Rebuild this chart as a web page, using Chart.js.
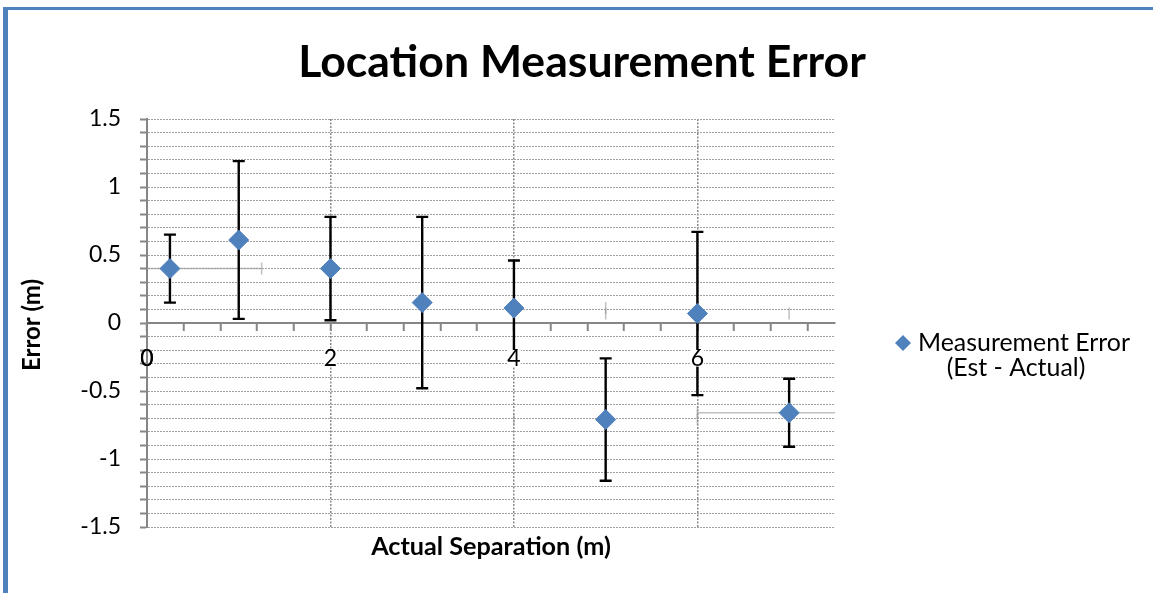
<!DOCTYPE html>
<html>
<head>
<meta charset="utf-8">
<title>Location Measurement Error</title>
<script src="https://cdn.jsdelivr.net/npm/chart.js@4.4.0/dist/chart.umd.min.js"></script>
<style>
  html, body { margin: 0; padding: 0; background: #fff; }
  #wrap { position: relative; width: 1153px; height: 593px; }
</style>
</head>
<body>
<div id="wrap"><canvas id="errorChart" width="1153" height="593"></canvas></div>
<script>
// actual separation of each trial (m)
const separations = [0.25, 1, 2, 3, 4, 5, 6, 7];
// estimated minus actual separation (m)
const errors = [0.40, 0.61, 0.40, 0.15, 0.11, -0.71, 0.07, -0.66];
// +/- spread of the error (m)
const errorSpread = [0.25, 0.58, 0.38, 0.63, 0.35, 0.45, 0.60, 0.25];
// +/- spread along the separation axis (m), only a couple draw the full line
const separationSpread = [1, 1, 1, 1, 1, 1, 1, 1];
const separationLineShown = [true, false, false, false, false, false, false, true];

const xTickLabels = [0, 2, 4, 6];
const yTickLabels = [-1.5, -1, -0.5, 0, 0.5, 1, 1.5];
const seriesName = ['Measurement Error', '(Est - Actual)'];
const chartTitle = 'Location Measurement Error';
const xTitle = 'Actual Separation (m)';
const yTitle = 'Error (m)';

const FAMILY = 'Lato, "Open Sans", sans-serif';
const BLUE = '#4F81BD';
const AXIS_GREY = '#868686';

function fitFont(ctx, text, weight, target) {
    ctx.font = `${weight} 100px ${FAMILY}`;
    const size = 100 * target / ctx.measureText(text).width;
    return `${weight} ${size.toFixed(1)}px ${FAMILY}`;
}

// blue frame along the top and left edge
const frame = {
    id: 'frame',
    beforeDraw(chart) {
        const ctx = chart.ctx;
        ctx.save();
        ctx.fillStyle = '#fff';
        ctx.fillRect(0, 0, chart.width, chart.height);
        ctx.fillStyle = BLUE;
        ctx.fillRect(3, 7, chart.width - 3, 3);
        ctx.fillRect(3, 7, 5, chart.height - 7);
        ctx.restore();
    }
};

// error bars drawn under the markers
const errorBars = {
    id: 'errorBars',
    beforeDatasetsDraw(chart) {
        const {ctx, chartArea, scales: {x, y}} = chart;
        ctx.save();
        ctx.beginPath();
        ctx.rect(chartArea.left, chartArea.top, chartArea.width, chartArea.height);
        ctx.clip();

        ctx.strokeStyle = 'rgba(150,150,150,0.6)';
        ctx.lineWidth = 1.5;
        separations.forEach((sx, i) => {
            const py = y.getPixelForValue(errors[i]);
            const x0 = x.getPixelForValue(sx - separationSpread[i]);
            const x1 = x.getPixelForValue(sx + separationSpread[i]);
            ctx.beginPath();
            if (separationLineShown[i]) { ctx.moveTo(x0, py); ctx.lineTo(x1, py); }
            ctx.moveTo(x0, py - 6); ctx.lineTo(x0, py + 6);
            ctx.moveTo(x1, py - 6); ctx.lineTo(x1, py + 6);
            ctx.stroke();
        });

        ctx.strokeStyle = '#000';
        ctx.lineWidth = 2.4;
        separations.forEach((sx, i) => {
            const px = x.getPixelForValue(sx);
            const top = y.getPixelForValue(errors[i] + errorSpread[i]);
            const bot = y.getPixelForValue(errors[i] - errorSpread[i]);
            ctx.beginPath();
            ctx.moveTo(px, top); ctx.lineTo(px, bot);
            ctx.moveTo(px - 6, top); ctx.lineTo(px + 6, top);
            ctx.moveTo(px - 6, bot); ctx.lineTo(px + 6, bot);
            ctx.stroke();
        });
        ctx.restore();
    },
    // the separation labels sit on top of the bars that cross them
    afterDatasetsDraw(chart) {
        chart.scales.x.drawLabels(chart.chartArea);
    }
};

// title, axis titles and the legend on the right
const labels = {
    id: 'labels',
    afterDraw(chart) {
        const ctx = chart.ctx;
        ctx.save();
        ctx.fillStyle = '#000';

        ctx.textAlign = 'center';
        ctx.textBaseline = 'alphabetic';
        ctx.font = fitFont(ctx, chartTitle, 'bold', 568);
        ctx.fillText(chartTitle, 582, 77);

        ctx.font = fitFont(ctx, xTitle, 'bold', 240);
        ctx.fillText(xTitle, 491, 555);

        ctx.save();
        ctx.translate(32, 325);
        ctx.rotate(-Math.PI / 2);
        ctx.textBaseline = 'middle';
        ctx.font = fitFont(ctx, yTitle, 'bold', 92);
        ctx.fillText(yTitle, 0, 0);
        ctx.restore();

        // legend marker
        ctx.fillStyle = BLUE;
        ctx.beginPath();
        ctx.moveTo(903, 335); ctx.lineTo(911, 343); ctx.lineTo(903, 351); ctx.lineTo(895, 343);
        ctx.closePath();
        ctx.fill();

        ctx.fillStyle = '#000';
        ctx.textBaseline = 'middle';
        ctx.font = fitFont(ctx, seriesName[0], 'normal', 212);
        ctx.textAlign = 'left';
        ctx.fillText(seriesName[0], 918, 343);
        ctx.textAlign = 'center';
        ctx.fillText(seriesName[1], 1016, 368);
        ctx.restore();
    }
};

const canvas = document.getElementById('errorChart');

new Chart(canvas, {
    type: 'scatter',
    data: {
        datasets: [{
            label: seriesName.join(' '),
            data: separations.map((sx, i) => ({ x: sx, y: errors[i] })),
            pointStyle: 'rectRot',
            pointRadius: 10,
            pointHoverRadius: 10,
            backgroundColor: BLUE,
            borderColor: BLUE,
            borderWidth: 1
        }]
    },
    options: {
        responsive: false,
        animation: false,
        devicePixelRatio: 1,
        events: [],
        layout: { padding: { left: 0, top: 119, right: 318, bottom: 66 } },
        plugins: { legend: { display: false }, tooltip: { enabled: false }, title: { display: false } },
        scales: {
            x: {
                type: 'linear',
                position: { y: 0 },
                min: 0,
                max: 7.5,
                afterBuildTicks(scale) {
                    const ticks = [];
                    for (let k = 0; k * 0.4 <= 7.5 + 1e-9; k++) ticks.push({ value: Math.round(k * 4) / 10 });
                    scale.ticks = ticks;
                },
                ticks: {
                    autoSkip: false,
                    maxRotation: 0,
                    padding: 15,
                    color: '#000',
                    font: { family: FAMILY, size: 23 },
                    showLabelBackdrop: true,
                    backdropColor: c => (c.tick && c.tick.value === 0) ? 'transparent' : '#fff',
                    backdropPadding: { top: -5, bottom: -6, left: 0, right: 0 },
                    callback: v => xTickLabels.includes(v) ? String(v) : ''
                },
                grid: {
                    color: c => (c.tick && c.tick.value !== 0 && xTickLabels.includes(c.tick.value)) ? '#8a8a8a' : 'transparent',
                    lineWidth: 1.5,
                    tickLength: 7,
                    tickWidth: 2,
                    tickColor: AXIS_GREY
                },
                border: { color: AXIS_GREY, width: 2, dash: [2, 1.5] }
            },
            y: {
                type: 'linear',
                min: -1.5,
                max: 1.5,
                afterBuildTicks(scale) {
                    const ticks = [];
                    for (let k = 0; k <= 30; k++) ticks.push({ value: Math.round(-15 + k) / 10 });
                    scale.ticks = ticks;
                },
                afterFit(scale) { scale.width = 147; },
                ticks: {
                    autoSkip: false,
                    padding: 19,
                    color: '#000',
                    font: { family: FAMILY, size: 23 },
                    callback: v => yTickLabels.includes(v) ? String(v) : ''
                },
                grid: {
                    color: c => (c.tick && c.tick.value === 0) ? 'transparent' : '#a0a0a0',
                    lineWidth: 1,
                    tickLength: 7,
                    tickWidth: 2,
                    tickColor: AXIS_GREY
                },
                border: { color: AXIS_GREY, width: 2, dash: [2, 1] }
            }
        }
    },
    plugins: [frame, errorBars, labels]
});
</script>
</body>
</html>
